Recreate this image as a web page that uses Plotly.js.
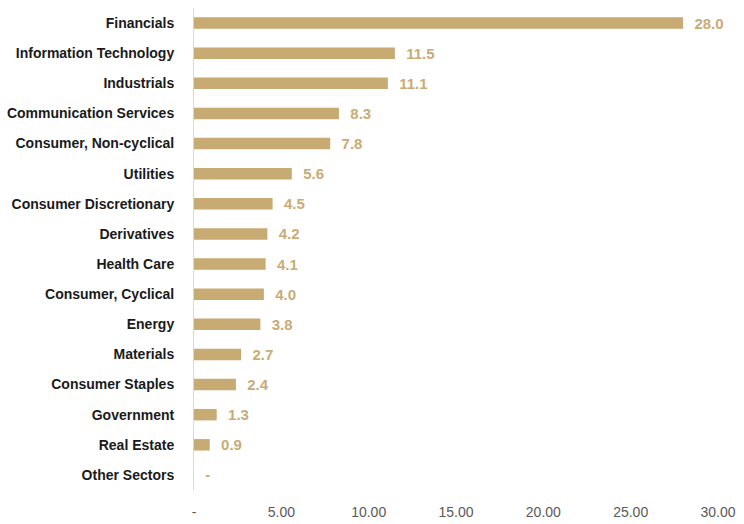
<!DOCTYPE html>
<html><head><meta charset="utf-8">
<script src="https://cdn.plot.ly/plotly-3.0.1.min.js"></script>
<style>html,body{margin:0;padding:0;background:#fff}#c{width:744px;height:524px}</style>
</head><body><div id="c"></div>
<script>
const categories = ["Financials","Information Technology","Industrials","Communication Services","Consumer, Non-cyclical","Utilities","Consumer Discretionary","Derivatives","Health Care","Consumer, Cyclical","Energy","Materials","Consumer Staples","Government","Real Estate","Other Sectors"];
const values = [28.0,11.5,11.1,8.3,7.8,5.6,4.5,4.2,4.1,4.0,3.8,2.7,2.4,1.3,0.9,0];
const tickVals = [0,5,10,15,20,25,30];
const tickText = ["-","5.00","10.00","15.00","20.00","25.00","30.00"];
const labels = values.map(v => v === 0 ? "  -" : "  " + v.toFixed(1));

Plotly.newPlot("c", [{
  type: "bar", orientation: "h",
  y: categories, x: values,
  marker: {color: "#C8AA73"},
  text: labels, textposition: "outside", cliponaxis: false, constraintext: "none",
  textfont: {family: "Liberation Sans, Arial, sans-serif", size: 15, weight: 700, color: "#C9AB76"},
  hoverinfo: "none"
}], {
  width: 744, height: 524,
  margin: {l: 194, r: 26, t: 8, b: 34},
  paper_bgcolor: "#fff", plot_bgcolor: "#fff",
  bargap: 0.62,
  showlegend: false,
  xaxis: {range: [0, 30], tickvals: tickVals, ticktext: tickText, showgrid: false, zeroline: false,
    showline: false, ticks: "", ticklabelstandoff: 12,
    tickfont: {family: "Liberation Sans, Arial, sans-serif", size: 14, color: "#595959"}},
  yaxis: {autorange: "reversed", showgrid: false, zeroline: false, showline: true, linecolor: "#D9D9D9", linewidth: 1,
    ticks: "", ticklabelstandoff: 16,
    tickfont: {family: "Liberation Sans Narrow, Arial Narrow, sans-serif", size: 14, weight: 700, color: "#1a1a1a"}}
}, {staticPlot: true});
</script></body></html>
